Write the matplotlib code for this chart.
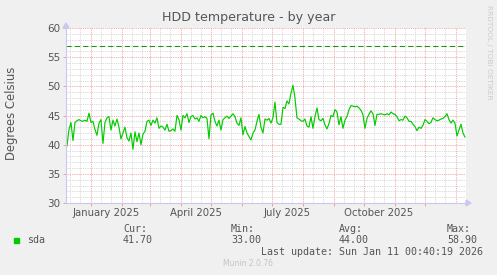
import matplotlib
matplotlib.use("Agg")
import matplotlib.pyplot as plt
import pandas as pd

# HDD temperature for sda, one reading every 2 days
dates = pd.date_range("2024-12-08", periods=200, freq="2D")
temps = [
    39.8, 42.6, 43.8, 40.7, 43.8, 44.1, 44.3, 44.1, 44.0, 44.2,
    44.0, 45.4, 43.8, 44.0, 42.6, 41.6, 43.7, 44.3, 40.2, 43.8,
    44.6, 44.8, 42.5, 44.2, 43.2, 44.4, 43.0, 41.0, 42.0, 43.0,
    41.2, 40.6, 42.0, 39.2, 42.2, 40.5, 42.0, 40.0, 41.8, 42.3,
    44.0, 44.2, 43.3, 44.2, 43.7, 44.6, 42.8, 43.2, 43.0, 42.5,
    43.5, 42.3, 42.4, 42.7, 42.3, 45.0, 44.3, 42.5, 45.0, 44.6,
    45.3, 43.8, 44.8, 45.0, 44.4, 44.6, 44.0, 45.0, 44.6, 44.8,
    44.5, 41.0, 45.1, 45.4, 44.0, 43.2, 44.2, 42.5, 44.3, 44.6,
    44.9, 44.5, 44.9, 45.3, 44.8, 43.7, 43.3, 44.6, 41.7, 43.1,
    42.0, 41.4, 40.8, 42.0, 42.5, 44.0, 45.2, 43.0, 42.0, 44.4,
    44.2, 44.5, 43.7, 44.6, 47.3, 43.8, 43.5, 43.5, 46.4, 46.2,
    47.5, 47.0, 48.8, 50.2, 48.0, 44.6, 44.4, 44.1, 44.0, 44.4,
    43.2, 43.0, 44.8, 42.8, 44.8, 46.3, 44.3, 44.1, 44.5, 43.4,
    42.7, 43.6, 45.0, 44.8, 46.0, 45.6, 43.4, 44.8, 42.8, 44.2,
    44.8, 46.0, 46.7, 46.6, 46.5, 46.6, 46.3, 45.9, 45.1, 42.8,
    44.5, 45.2, 45.8, 45.3, 43.3, 45.2, 45.2, 45.3, 45.2, 45.1,
    45.3, 45.1, 45.6, 45.3, 45.2, 44.8, 44.1, 44.3, 44.2, 44.9,
    44.6, 44.0, 44.0, 43.5, 43.1, 42.4, 43.0, 42.8, 43.3, 44.3,
    44.0, 43.6, 43.8, 44.6, 44.3, 44.1, 44.2, 44.4, 44.5, 44.8,
    45.3, 44.3, 43.7, 44.2, 43.7, 41.5, 42.5, 43.5, 42.0, 41.3,
]
warning = 57
y_ticks = [30, 35, 40, 45, 50, 55, 60]
x_labels = ["January 2025", "April 2025", "July 2025", "October 2025"]
x_label_dates = pd.to_datetime(["2025-01-16", "2025-04-16", "2025-07-16", "2025-10-16"])
legend_cols = ["Cur:", "Min:", "Avg:", "Max:"]
legend_vals = ["41.70", "33.00", "44.00", "58.90"]

W, H = 497, 275
BG = "#F0F0F0"
GREEN = "#00CC00"
TXT = "#555555"
MAJ = "#EE9090"
MIN = "#CCCCCC"
AXIS = "#C8C8F0"


def fx(px):
    return px / W


def fy(py):
    return 1 - py / H


fig = plt.figure(figsize=(W / 100, H / 100), dpi=100, facecolor=BG)
ax = fig.add_axes([fx(66), fy(203), 400 / W, 175 / H], facecolor="white")

start = pd.Timestamp("2024-12-07 00:40")
end = pd.Timestamp("2026-01-11 00:40")
ax.set_xlim(start, end)
ax.set_ylim(30, 60)

# grid: minor grey dotted, major red dotted
months = pd.date_range("2024-12-01", "2026-01-31", freq="MS")
minor_days = [d + pd.Timedelta(days=k) for d in months for k in (10, 20)]
for d in minor_days:
    ax.axvline(d, color=MIN, lw=0.6, ls=(0, (1, 1.2)), zorder=1)
for v in range(31, 60):
    if v % 5:
        ax.axhline(v, color=MIN, lw=0.6, ls=(0, (1, 1.2)), zorder=1)
for d in months:
    ax.axvline(d, color=MAJ, lw=0.6, ls=(0, (1, 1.2)), zorder=2)
for v in y_ticks:
    ax.axhline(v, color=MAJ, lw=0.6, ls=(0, (1, 1.2)), zorder=2)

ax.axhline(warning, color="#119911", lw=0.75, ls=(0, (5, 3)), zorder=3)
ax.plot(dates, temps, color=GREEN, lw=0.85, zorder=4)

for s in ["top", "right"]:
    ax.spines[s].set_visible(False)
for s in ["left", "bottom"]:
    ax.spines[s].set_color(AXIS)
    ax.spines[s].set_linewidth(0.8)
    ax.spines[s].set_zorder(5)

ax.set_yticks(y_ticks)
ax.set_yticklabels([str(v) for v in y_ticks])
ax.tick_params(axis="y", length=2, color=MAJ, width=0.6, labelsize=7.5,
               labelcolor=TXT, pad=2)
ax.set_xticks(months[1:-1])
ax.set_xticklabels([])
ax.tick_params(axis="x", length=2, color=MAJ, width=0.6)
for d, lab in zip(x_label_dates, x_labels):
    ax.text(d, -0.03, lab, transform=ax.get_xaxis_transform(), ha="center",
            va="top", fontsize=7.3, color=TXT)

# axis arrows
fig.patches.append(plt.Polygon([[fx(466), fy(200)], [fx(466), fy(206)], [fx(471), fy(203)]],
                               closed=True, transform=fig.transFigure, color=AXIS))
fig.patches.append(plt.Polygon([[fx(63), fy(28)], [fx(69), fy(28)], [fx(66), fy(23)]],
                               closed=True, transform=fig.transFigure, color=AXIS))

fig.text(fx(249), fy(18), "HDD temperature - by year", ha="center", va="center",
         fontsize=9.1, color=TXT)
fig.text(fx(12), fy(113), "Degrees Celsius", rotation=90, ha="center", va="center",
         fontsize=8.4, color=TXT)
fig.text(fx(489), fy(5), "RRDTOOL / TOBI OETIKER", rotation=270, ha="center", va="top",
         fontsize=5.3, color="#CCCCCC")

mono = dict(family="DejaVu Sans Mono", fontsize=7.2, color=TXT, va="center")
fig.patches.append(plt.Rectangle((fx(14), fy(243)), 5 / W, 5 / H,
                                 transform=fig.transFigure, color=GREEN))
fig.text(fx(27), fy(240), "sda", **mono)
for i, (c, v) in enumerate(zip(legend_cols, legend_vals)):
    x = 123 + i * 108
    fig.text(fx(x), fy(229), c, **mono)
    fig.text(fx(x), fy(240), v, **mono)
fig.text(fx(483), fy(252), "Last update: Sun Jan 11 00:40:19 2026", ha="right", **mono)
fig.text(fx(248), fy(264), "Munin 2.0.76", ha="center", va="center",
         fontsize=5.5, color="#C4C4C4")

fig.savefig("out.png", dpi=100, facecolor=BG)
